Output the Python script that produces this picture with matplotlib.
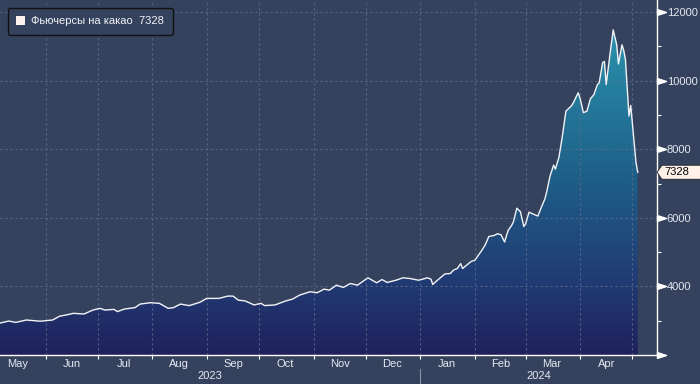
import numpy as np
import pandas as pd
import matplotlib
matplotlib.use('Agg')
import matplotlib.pyplot as plt
import matplotlib.dates as mdates
from matplotlib.colors import LinearSegmentedColormap
from matplotlib.patches import Patch
from matplotlib.path import Path

plt.rcParams['font.family'] = ['Liberation Sans', 'DejaVu Sans']

dates = [
    '2023-05-06', '2023-05-11', '2023-05-15', '2023-05-21', '2023-05-29',
    '2023-06-05', '2023-06-09', '2023-06-13', '2023-06-17', '2023-06-23', '2023-06-28',
    '2023-07-02', '2023-07-05', '2023-07-10', '2023-07-12', '2023-07-16', '2023-07-22',
    '2023-07-25', '2023-07-31', '2023-08-05', '2023-08-10', '2023-08-13', '2023-08-17',
    '2023-08-22', '2023-08-28', '2023-09-01', '2023-09-08', '2023-09-13', '2023-09-16',
    '2023-09-19', '2023-09-23', '2023-09-28', '2023-10-02', '2023-10-04', '2023-10-10',
    '2023-10-16', '2023-10-20', '2023-10-24', '2023-10-30', '2023-11-03', '2023-11-07',
    '2023-11-10', '2023-11-14', '2023-11-18', '2023-11-22', '2023-11-26', '2023-12-02',
    '2023-12-07', '2023-12-10', '2023-12-13', '2023-12-18', '2023-12-22', '2023-12-26',
    '2023-12-31', '2024-01-05', '2024-01-07', '2024-01-08', '2024-01-10', '2024-01-15',
    '2024-01-18', '2024-01-20', '2024-01-22', '2024-01-24', '2024-01-25', '2024-01-30',
    '2024-02-01', '2024-02-05', '2024-02-07', '2024-02-09', '2024-02-12', '2024-02-14',
    '2024-02-16', '2024-02-18', '2024-02-20', '2024-02-22', '2024-02-23', '2024-02-25',
    '2024-02-27', '2024-02-29', '2024-03-01', '2024-03-03', '2024-03-05', '2024-03-08',
    '2024-03-10', '2024-03-12', '2024-03-13', '2024-03-15', '2024-03-17', '2024-03-18',
    '2024-03-20', '2024-03-22', '2024-03-24', '2024-03-27', '2024-03-28', '2024-03-31',
    '2024-04-01', '2024-04-03', '2024-04-05', '2024-04-07', '2024-04-09', '2024-04-11',
    '2024-04-12', '2024-04-14', '2024-04-15', '2024-04-16', '2024-04-18', '2024-04-20',
    '2024-04-22', '2024-04-23', '2024-04-25', '2024-04-26', '2024-04-27', '2024-04-29',
    '2024-04-30', '2024-05-03', '2024-05-04',
]
prices = [
    2930, 2990, 2950, 3020, 2985,
    3020, 3130, 3170, 3215, 3195, 3310,
    3360, 3310, 3330, 3265, 3340, 3380,
    3485, 3525, 3505, 3360, 3380, 3485,
    3440, 3535, 3650, 3650, 3717, 3717,
    3600, 3575, 3460, 3505, 3440, 3460,
    3575, 3630, 3745, 3845, 3815, 3920,
    3890, 4035, 3970, 4085, 4035, 4250,
    4105, 4200, 4115, 4180, 4250, 4230,
    4180, 4250, 4210, 4055, 4150, 4365,
    4375, 4480, 4520, 4665, 4520, 4730,
    4760, 5050, 5215, 5455, 5485, 5535,
    5505, 5295, 5630, 5775, 5875, 6280,
    6180, 5745, 5825, 6165, 6115, 6050,
    6310, 6550, 6745, 7225, 7535, 7420,
    7760, 8385, 9110, 9255, 9330, 9645,
    9500, 9065, 9110, 9470, 9595, 9885,
    9935, 10530, 10560, 9885, 10705, 11480,
    11045, 10485, 11045, 10880, 10610, 8965,
    9275, 7615, 7328,
]
last_price = 7328
legend_label = 'Фьючерсы на какао  7328'
month_labels = ['May', 'Jun', 'Jul', 'Aug', 'Sep', 'Oct', 'Nov', 'Dec',
                'Jan', 'Feb', 'Mar', 'Apr']
year_labels = ['2023', '2024']
y_ticks = [4000, 6000, 8000, 10000, 12000]
y_minor = [3000, 5000, 7000, 9000, 11000]

BG = '#35425e'
GRID = '#5d6d8e'
TXT = '#e4e8f0'


class TagBox:
    # box with a pointed left side, like the last-value tag
    def __init__(self, pad=0.18):
        self.pad = pad

    def __call__(self, x0, y0, width, height, mutation_size):
        pad = mutation_size * self.pad
        x0, y0 = x0 - pad, y0 - pad
        x1 = x0 + width + 2 * pad + mutation_size
        y1 = y0 + height + 2 * pad
        ym = (y0 + y1) / 2
        tip = x0 - (y1 - y0) * 0.35
        verts = [(tip, ym), (x0, y1), (x1, y1), (x1, y0), (x0, y0), (tip, ym)]
        return Path(verts, closed=True)


# flat arrow used as tick mark on the right axis, base at the spine
arrow_tick = Path([(0, -0.32), (1, 0), (0, 0.32), (0, -0.32)], closed=True)

fig = plt.figure(figsize=(7, 3.84), dpi=100)
fig.patch.set_facecolor(BG)
ax = fig.add_axes([0, 1 - 355 / 384, 657 / 700, 355 / 384])
ax.set_facecolor(BG)

x = mdates.date2num(pd.to_datetime(dates))
y = np.array(prices, dtype=float)
ymin, ymax = 2000, 12350

# gradient area under the curve
cmap = LinearSegmentedColormap.from_list(
    'cocoa', [(0, '#1f215c'), (0.2, '#213a73'), (0.5, '#1e5f88'),
              (0.9, '#2a90ab'), (1, '#2c98b0')])
area = ax.fill_between(x, y, ymin, color='none', lw=0)
grad = np.linspace(0, 1, 256).reshape(-1, 1)
im = ax.imshow(grad, cmap=cmap, aspect='auto', origin='lower',
               extent=[x[0], x[-1], ymin, ymax], zorder=1)
im.set_clip_path(area.get_paths()[0], transform=ax.transData)

ax.plot(x, y, color='#f2f3f7', lw=1.0, zorder=3)

ax.set_xlim(mdates.date2num(pd.Timestamp('2023-05-06')),
            mdates.date2num(pd.Timestamp('2024-05-15')))
ax.set_ylim(ymin, ymax)

# x axis: ticks at month starts, labels mid-month
month_starts = pd.date_range('2023-06-01', '2024-05-01', freq='MS')
ax.set_xticks(mdates.date2num(month_starts))
ax.set_xticklabels([])
label_pos = pd.date_range('2023-05-01', periods=len(month_labels), freq='MS') + pd.Timedelta(days=15)
ax.set_xticks(mdates.date2num(label_pos), month_labels, minor=True)
ax.tick_params(axis='x', which='major', length=3, width=0.8, color='white', direction='out')
ax.tick_params(axis='x', which='minor', length=0, pad=3, labelsize=8, labelcolor=TXT)

# y axis on the right
ax.yaxis.tick_right()
ax.set_yticks(y_ticks)
ax.set_yticks(y_minor, minor=True)
ax.tick_params(axis='y', which='major', length=0, pad=7, labelsize=8, labelcolor=TXT)
ax.tick_params(axis='y', which='minor', length=3, width=0.8, color='white')
ax.plot(np.ones(len(y_ticks) + 1), [ymin] + y_ticks, transform=ax.get_yaxis_transform(),
        ls='none', marker=arrow_tick, ms=13, color='white', clip_on=False, zorder=5)

ax.set_axisbelow('line')
ax.grid(True, which='major', color=GRID, linestyle=(0, (2, 2.5)), linewidth=0.8, alpha=0.85)

for side in ['top', 'left']:
    ax.spines[side].set_visible(False)
for side in ['right', 'bottom']:
    ax.spines[side].set_color('white')
    ax.spines[side].set_linewidth(1)

# year labels and divider
jan1 = mdates.date2num(pd.Timestamp('2024-01-01'))
x0, x1 = ax.get_xlim()
trans = ax.get_xaxis_transform()
ax.text((x0 + jan1) / 2, -0.06, year_labels[0], transform=trans, ha='center', va='center',
        fontsize=8, color=TXT)
ax.text((jan1 + x1) / 2, -0.06, year_labels[1], transform=trans, ha='center', va='center',
        fontsize=8, color=TXT)
ax.plot([jan1, jan1], [-0.039, -0.085], transform=trans, color='#8a93aa', lw=0.8, clip_on=False)

# last value tag
ax.annotate(str(last_price), xy=(1, last_price), xycoords=ax.get_yaxis_transform(),
            xytext=(5, 0), textcoords='offset points', ha='left', va='center',
            fontsize=8, color='black', annotation_clip=False,
            bbox=dict(boxstyle=TagBox(), fc='#fdf1ea', ec='#222222', lw=0.6))

leg = ax.legend(handles=[Patch(facecolor='#fdf3ee', edgecolor='none')], labels=[legend_label],
                loc='upper left', bbox_to_anchor=(8 / 657, 1 - 8 / 355), borderaxespad=0,
                fontsize=8, handlelength=0.75, handleheight=0.75, handletextpad=0.6,
                borderpad=0.75, fancybox=True, framealpha=1, labelcolor='#f0f2f6')
leg.get_frame().set_facecolor(BG)
leg.get_frame().set_edgecolor('#111111')
leg.get_frame().set_linewidth(1)

fig.savefig('out.png', dpi=100, facecolor=BG)
